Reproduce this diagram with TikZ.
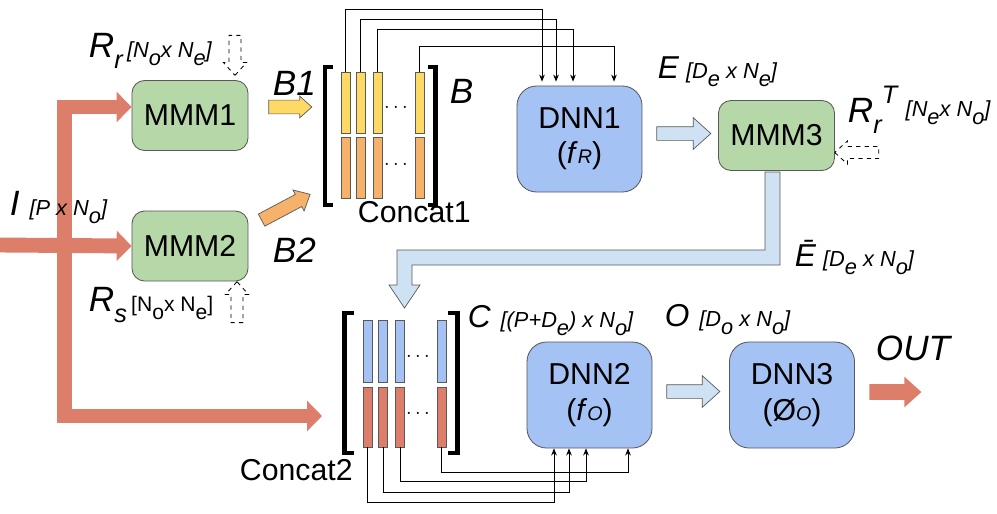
\documentclass[tikz,border=0pt]{standalone}
\usepackage{fontspec}
\setmainfont{Liberation Sans}
\usetikzlibrary{arrows.meta,shapes.arrows,calc}

\definecolor{rosso}{HTML}{DD7E6B}
\definecolor{verde}{HTML}{B6D7A8}
\definecolor{blu}{HTML}{A4C2F4}
\definecolor{celeste}{HTML}{CFE2F3}
\definecolor{giallo}{HTML}{FFD966}
\definecolor{arancio}{HTML}{F6B26B}
\definecolor{bordo}{HTML}{595959}

\newcommand{\grande}{\fontsize{25}{28}\selectfont\itshape}
\newcommand{\medio}{\fontsize{22.5}{26}\selectfont\itshape}
\newcommand{\piccolo}{\fontsize{15.5}{17}\selectfont\itshape}
\newcommand{\pedice}{\fontsize{18}{18}\selectfont}
\newcommand{\giu}[2][6pt]{\raisebox{-#1}{#2}}

\begin{document}
\begin{tikzpicture}[
    x=0.025cm,y=-0.025cm,
    font=\fontsize{21.5}{25}\selectfont,
    mmm/.style={rectangle,rounded corners=9pt,draw=bordo,line width=0.6pt,
                fill=verde,minimum width=2.9cm,minimum height=1.75cm},
    dnn/.style={rectangle,rounded corners=14pt,draw=bordo,line width=0.6pt,
                fill=blu,minimum width=3.125cm,minimum height=2.65cm,align=center},
    barra/.style={rectangle,draw=bordo,line width=0.5pt,inner sep=0pt,
                minimum width=0.225cm,minimum height=1.525cm},
    filo/.style={line width=0.6pt,-{Stealth[length=5pt,width=4pt]}},
    rossa/.style={draw=rosso,line width=10.6pt,-{Triangle[length=10.6pt,width=21pt]}},
    blocco/.style={single arrow,single arrow tip angle=84,inner xsep=0pt,
                inner ysep=0.1625cm,minimum width=0pt,draw=bordo,line width=0.5pt},
    tratteggio/.style={blocco,dashed,fill=white,draw=black,line width=0.6pt,
                inner ysep=0.14cm,single arrow head extend=0.14cm},
    parentesi/.style={line width=3.5pt}]

  \useasboundingbox (0,0) rectangle (997,513);

  % ---- blocchi MMM e DNN -----------------------------------------------------
  \node[mmm] (mmm1) at (190,115.5) {MMM1};
  \node[mmm] (mmm2) at (190,246)   {MMM2};
  \node[mmm] (mmm3) at (776.5,135.5) {MMM3};
  \node[dnn] (dnn1) at (579.5,139) {DNN1\\(\textit{f}{\fontsize{14}{14}\selectfont\textit{R}})};
  \node[dnn] (dnn2) at (589.5,395) {DNN2\\(\textit{f}{\fontsize{14}{14}\selectfont\textit{O}})};
  \node[dnn] (dnn3) at (792,395)   {DNN3\\(Ø{\fontsize{14}{14}\selectfont\textit{O}})};

  % ---- ingresso I: frecce rosse ----------------------------------------------
  \coordinate (ingresso) at (0,245);
  \coordinate (incrocio) at (64.5,245);
  \coordinate (punta)    at (322,416);
  \draw[rossa] (ingresso) -- (mmm2.west);
  \draw[rossa] (incrocio) |- ($(mmm1.west)+(0,-8.5)$);
  \draw[rossa] (incrocio) |- (punta);

  % ---- Concat1 ---------------------------------------------------------------
  \node[barra,fill=giallo] (g1) at (345.5,102.5) {};
  \node[barra,fill=giallo] (g2) at (360.5,102.5) {};
  \node[barra,fill=giallo] (g3) at (377.5,102.5) {};
  \node[barra,fill=giallo] (g4) at (419.5,102.5) {};
  \node[barra,fill=arancio] (a1) at (345.5,168) {};
  \node[barra,fill=arancio] (a2) at (360.5,168) {};
  \node[barra,fill=arancio] (a3) at (377.5,168) {};
  \node[barra,fill=arancio] (a4) at (419.5,168) {};
  \node[anchor=base,font=\fontsize{14}{14}\selectfont] (pg) at (396,112) {$\cdots$};
  \node[anchor=base,font=\fontsize{14}{14}\selectfont] (pa) at (396,169) {$\cdots$};
  \draw[parentesi] (333,67) -- (325,67) -- (325,205) -- (333,205);
  \draw[parentesi] (428,67) -- (435.5,67) -- (435.5,205) -- (428,205);

  % ---- Concat2 ---------------------------------------------------------------
  \node[barra,fill=blu,minimum height=1.55cm] (c1) at (367.5,351) {};
  \node[barra,fill=blu,minimum height=1.55cm] (c2) at (383,351) {};
  \node[barra,fill=blu,minimum height=1.55cm] (c3) at (400,351) {};
  \node[barra,fill=blu,minimum height=1.55cm] (c4) at (441.5,351) {};
  \node[barra,fill=rosso,minimum height=1.5cm] (r1) at (367.5,417) {};
  \node[barra,fill=rosso,minimum height=1.5cm] (r2) at (383,417) {};
  \node[barra,fill=rosso,minimum height=1.5cm] (r3) at (400,417) {};
  \node[barra,fill=rosso,minimum height=1.5cm] (r4) at (441.5,417) {};
  \node[anchor=base,font=\fontsize{14}{14}\selectfont] (pc) at (418,361) {$\cdots$};
  \node[anchor=base,font=\fontsize{14}{14}\selectfont] (pr) at (418,418) {$\cdots$};
  \draw[parentesi] (354,313) -- (344.5,313) -- (344.5,453) -- (354,453);
  \draw[parentesi] (448,313) -- (457.5,313) -- (457.5,453) -- (448,453);

  % ---- fili verso DNN1 e DNN2 ------------------------------------------------
  \draw[filo,shorten >=2.8pt] (g1.north) -- ++(0,-62) -| ($(dnn1.north)+(-37.5,0)$);
  \draw[filo,shorten >=2.8pt] (g2.north) -- ++(0,-52) -| ($(dnn1.north)+(-23.5,0)$);
  \draw[filo,shorten >=2.8pt] (g3.north) -- ++(0,-42) -| ($(dnn1.north)+(-6.5,0)$);
  \draw[filo,shorten >=2.8pt] (g4.north) -- ++(0,-25) -| ($(dnn1.north)+(34.5,0)$);
  \draw[filo] (r1.south) -- ++(0,55) -| ($(dnn2.south)+(-35.5,0)$);
  \draw[filo] (r2.south) -- ++(0,45) -| ($(dnn2.south)+(-20.5,0)$);
  \draw[filo] (r3.south) -- ++(0,34) -| ($(dnn2.south)+(-3.5,0)$);
  \draw[filo] (r4.south) -- ++(0,25) -| ($(dnn2.south)+(38.5,0)$);

  % ---- frecce a blocco -------------------------------------------------------
  \node[blocco,fill=giallo,minimum height=1.075cm,single arrow head extend=0.1cm]
       (fb1) at (286.5,107) {};
  \node[blocco,fill=arancio,minimum height=1.375cm,single arrow head extend=0.125cm,
       rotate=28] (fb2) at (282.5,209) {};
  \node[blocco,fill=celeste,minimum height=1.35cm,single arrow head extend=0.225cm]
       (fe) at (680,133.5) {};
  \node[blocco,fill=celeste,minimum height=1.325cm,single arrow head extend=0.225cm]
       (fo) at (689.5,391.5) {};
  \node[blocco,fill=rosso,draw=none,minimum height=1.3cm,inner ysep=0.1875cm,
       single arrow head extend=0.1875cm] (fout) at (891,392) {};
  \node[tratteggio,minimum height=1cm,rotate=-90] (frr) at (235,52) {};
  \node[tratteggio,minimum height=1.025cm,rotate=90] (frs) at (237,305.5) {};
  \node[tratteggio,minimum height=1.1cm,rotate=180] (frt) at (860,152.5) {};

  % ---- E barrata: da MMM3 a Concat2 ------------------------------------------
  \filldraw[fill=celeste,draw=bordo,line width=0.5pt]
       (765,172) -- (780,172) -- (780,265) -- (412,265) -- (412,285) -- (420,285)
       -- (404.5,308) -- (389,285) -- (397,285) -- (397,250) -- (765,250) -- cycle;

  % ---- etichette -------------------------------------------------------------
  \node[anchor=base west] (lrr) at (84,57)
       {{\grande R\giu[8pt]{\pedice r}}\hspace{3pt}{\piccolo[N\giu{o}x N\giu{e}]}};
  \node[anchor=base west] (li) at (5,215)
       {{\grande I}\hspace{7pt}{\piccolo[P x N\giu{o}]}};
  \node[anchor=base west] (lrs) at (84,311)
       {{\grande R\giu[8pt]{\pedice s}}\hspace{3pt}{\fontsize{15}{17}\selectfont[N\giu{o}x N\giu{e}]}};
  \node[anchor=base west,font=\fontsize{25}{28}\selectfont\itshape] (lb1) at (268,95) {B1};
  \node[anchor=base west,font=\fontsize{25}{28}\selectfont\itshape] (lb2) at (268,262) {B2};
  \node[anchor=base west,font=\fontsize{25}{28}\selectfont\itshape] (lb)  at (445,103) {B};
  \node[anchor=base west] (lc1) at (353,222) {Concat1};
  \node[anchor=base west] (lc2) at (235,480) {Concat2};
  \node[anchor=base west] (le) at (653,78)
       {{\medio E}\hspace{5pt}{\piccolo[D\giu{e} x N\giu{e}]}};
  \node[anchor=base west] (lrt) at (843,122)
       {{\grande R\giu[8pt]{\pedice r}\raisebox{13pt}{\pedice T}}\hspace{6pt}\raisebox{4pt}{\piccolo[N\giu{e}x N\giu{o}]}};
  \node[anchor=base west] (leb) at (790,266)
       {{\medio Ē}\hspace{5pt}{\piccolo[D\giu{e} x N\giu{o}]}};
  \node[anchor=base west] (lc) at (463,327)
       {{\medio C}\hspace{7pt}{\piccolo[(P+D\giu{e}) x N\giu{o}]}};
  \node[anchor=base west] (lo) at (660,326)
       {{\medio O}\hspace{7pt}{\piccolo[D\giu{o} x N\giu{o}]}};
  \node[anchor=base west,font=\grande] (lout) at (871,360) {OUT};

\end{tikzpicture}
\end{document}
